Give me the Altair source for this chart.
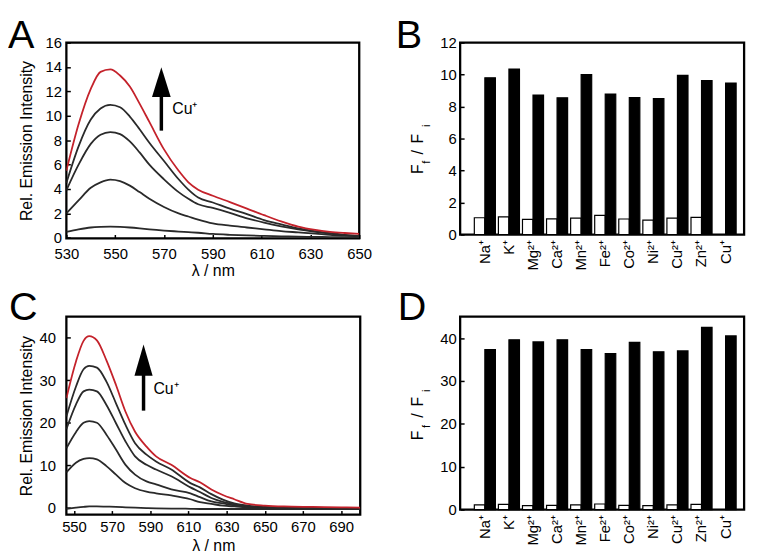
import altair as alt
import pandas as pd

FONT = "Liberation Sans"
DARK = "#2a2a2a"
RED = "#c4222b"

# ---------------- Panel A data ----------------
a_wavelength = [530, 535, 540, 544, 548, 552, 556, 560, 564, 570, 576, 580, 584, 590, 597, 604, 611, 618, 625, 632, 638, 644, 650]
a_cu_final = [5.5, 9.3, 12.2, 13.6, 13.8, 13.3, 12.4, 11.0, 9.5, 7.25, 5.5, 4.55, 3.95, 3.45, 2.93, 2.4, 1.86, 1.35, 0.92, 0.65, 0.5, 0.4, 0.32]
a_step3 = [4.5, 7.5, 9.7, 10.6, 10.9, 10.7, 9.94, 8.9, 7.8, 6.3, 4.8, 3.95, 3.3, 2.9, 2.4, 1.95, 1.45, 1.1, 0.78, 0.55, 0.38, 0.25, 0.16]
a_step2 = [3.9, 6.0, 7.7, 8.45, 8.67, 8.5, 7.9, 7.0, 6.0, 4.8, 3.75, 3.2, 2.75, 2.45, 2.05, 1.6, 1.25, 0.95, 0.7, 0.5, 0.35, 0.22, 0.14]
a_step1 = [2.0, 3.07, 4.1, 4.55, 4.77, 4.65, 4.28, 3.75, 3.2, 2.53, 2.0, 1.75, 1.5, 1.19, 1.0, 0.85, 0.7, 0.55, 0.45, 0.35, 0.25, 0.18, 0.12]
a_step0 = [0.5, 0.7, 0.85, 0.9, 0.92, 0.9, 0.85, 0.78, 0.7, 0.6, 0.52, 0.47, 0.42, 0.32, 0.25, 0.2, 0.16, 0.13, 0.1, 0.08, 0.06, 0.05, 0.04]
a_x_ticks = [530, 550, 570, 590, 610, 630, 650]
a_y_ticks = [0, 2, 4, 6, 8, 10, 12, 14, 16]

# ---------------- Panel C data ----------------
c_wavelength = [546, 551, 555, 558, 562, 567, 572, 577, 582, 588, 593, 601, 611, 616, 622, 628, 634, 641, 650, 660, 675, 690, 700]
c_cu_final = [25.8, 34.4, 39.3, 40.4, 39.4, 34.7, 28.9, 22.6, 17.9, 14.4, 12.1, 10.1, 7.0, 6.0, 4.3, 3.0, 2.0, 0.9, 0.5, 0.3, 0.2, 0.1, 0.0]
c_step4 = [21.5, 28.5, 32.6, 33.4, 33.0, 29.7, 24.6, 19.5, 15.2, 12.5, 10.9, 9.0, 5.8, 4.8, 3.2, 1.9, 1.0, 0.5, 0.2, 0.1, 0.0, -0.1, -0.1]
c_step3 = [18.5, 24.3, 27.4, 27.8, 27.4, 24.2, 19.9, 15.6, 12.1, 10.1, 9.0, 7.4, 4.8, 3.7, 2.3, 1.4, 0.8, 0.4, 0.1, 0.0, -0.1, -0.1, -0.1]
c_step2 = [14.0, 17.8, 20.0, 20.4, 20.0, 17.2, 13.7, 10.1, 7.8, 6.2, 5.5, 4.3, 3.4, 2.5, 1.5, 1.0, 0.5, 0.2, 0.0, -0.1, -0.1, -0.1, -0.1]
c_step1 = [8.3, 10.6, 11.5, 11.7, 11.4, 9.8, 7.8, 5.8, 4.6, 3.8, 3.4, 2.9, 2.0, 1.3, 0.9, 0.5, 0.3, 0.1, 0.0, -0.1, -0.1, -0.1, -0.1]
c_step0 = [-0.3, 0.0, 0.2, 0.3, 0.3, 0.25, 0.2, 0.1, 0.0, -0.1, -0.15, -0.2, -0.25, -0.3, -0.3, -0.3, -0.3, -0.3, -0.3, -0.3, -0.3, -0.3, -0.3]
c_x_ticks = [550, 570, 590, 610, 630, 650, 670, 690]
c_y_ticks = [0, 10, 20, 30, 40]

# ---------------- Bar panels data ----------------
ions = ["Na⁺", "K⁺", "Mg²⁺", "Ca²⁺", "Mn²⁺", "Fe²⁺", "Co²⁺", "Ni²⁺", "Cu²⁺", "Zn²⁺", "Cu⁺"]
b_before = [1.05, 1.1, 0.95, 0.98, 1.02, 1.2, 0.97, 0.9, 1.02, 1.07]
b_after = [9.8, 10.35, 8.72, 8.55, 10.0, 8.78, 8.56, 8.5, 9.95, 9.62, 9.47]
d_before = [1.1, 1.2, 0.9, 1.0, 1.1, 1.3, 1.0, 0.9, 1.1, 1.2]
d_after = [37.3, 39.6, 39.1, 39.6, 37.3, 36.4, 39.0, 36.8, 37.0, 42.5, 40.5]
b_y_ticks = [0, 2, 4, 6, 8, 10, 12]
d_y_ticks = [0, 10, 20, 30, 40]


def curves_df(wl, series):
    rows = []
    for name, vals in series.items():
        for w, v in zip(wl, vals):
            rows.append({"wl": w, "val": v, "series": name})
    return pd.DataFrame(rows)


def bars_df(before, after):
    rows = []
    for ion, v in zip(ions, before):
        rows.append({"ion": ion, "state": "before", "ratio": v})
    for ion, v in zip(ions, after):
        rows.append({"ion": ion, "state": "after", "ratio": v})
    return pd.DataFrame(rows)


ONE = alt.Data(values=[{}])
LETTER_SIZE = 40


def txt(text, x, y, size, align="left", baseline="alphabetic", angle=0):
    return alt.Chart(ONE).mark_text(
        text=text, font=FONT, fontSize=size, align=align, baseline=baseline,
        angle=angle, color="black"
    ).encode(x=alt.value(x), y=alt.value(y))


def spectrum_panel(black_df, red_df, xdom, xticks, ydom, yticks, w, h,
                   letter, letter_xy, arrow, ylab_pad, xlab_pad):
    xax = alt.Axis(values=xticks, format="d", title="λ / nm", orient="bottom",
                   offset=-4, tickSize=4, tickWidth=1.5, tickColor="black",
                   labelPadding=xlab_pad, labelFontSize=15, labelFlush=False,
                   labelOverlap=False, domain=False, grid=False,
                   titleFontSize=16, titleFontWeight="normal",
                   titleX=w / 2, titleY=arrow["xtitle_y"],
                   titleBaseline="middle", titleAlign="center")
    yax = alt.Axis(values=yticks, format="d", title="Rel. Emission Intensity",
                   orient="left", offset=-4, tickSize=4, tickWidth=1.5,
                   tickColor="black", labelPadding=ylab_pad, labelFontSize=15,
                   labelFlush=False, labelOverlap=False, domain=False,
                   grid=False, titleFontSize=16, titleFontWeight="normal",
                   titleAngle=270, titleX=-44, titleY=h / 2,
                   titleBaseline="middle", titleAlign="center")
    xs = alt.Scale(domain=xdom, nice=False, zero=False)
    ys = alt.Scale(domain=ydom, nice=False, zero=False)
    blk = alt.Chart(black_df).mark_line(
        color=DARK, strokeWidth=1.8, interpolate="monotone", clip=True
    ).encode(
        x=alt.X("wl:Q", scale=xs, axis=xax),
        y=alt.Y("val:Q", scale=ys, axis=yax),
        detail="series:N",
    )
    red = alt.Chart(red_df).mark_line(
        color=RED, strokeWidth=1.8, interpolate="monotone", clip=True
    ).encode(x=alt.X("wl:Q", scale=xs, axis=xax),
             y=alt.Y("val:Q", scale=ys, axis=yax))
    shaft = alt.Chart(ONE).mark_rule(color="black", strokeWidth=3.5).encode(
        x=alt.value(arrow["x"]), y=alt.value(arrow["shaft"][0]),
        y2=alt.value(arrow["shaft"][1]))
    hw = arrow["head_hw"]
    head = alt.Chart(ONE).mark_point(
        shape=f"M -{hw} 1 L 0 -1 L {hw} 1 Z", filled=True, opacity=1,
        color="black", size=arrow["head_size"], strokeWidth=0
    ).encode(x=alt.value(arrow["x"]), y=alt.value(arrow["head_y"]))
    cu = txt("Cu⁺", arrow["tx"], arrow["ty"], 16)
    let = txt(letter, letter_xy[0], letter_xy[1], LETTER_SIZE)
    return alt.layer(blk, red, shaft, head, cu, let).properties(width=w, height=h)


def bar_panel(df, ydom, yticks, w, h, letter, letter_xy, sub_pos):
    xax = alt.Axis(title=None, labelAngle=270, labelAlign="right",
                   labelBaseline="middle", labelPadding=5, ticks=False,
                   domain=False, grid=False, labelFontSize=15,
                   labelOverlap=False, labelColor="black")
    yax = alt.Axis(values=yticks, format="d", title=None, orient="left",
                   offset=-4, tickSize=4, tickWidth=1.5, tickColor="black",
                   labelPadding=4, labelFontSize=15, labelFlush=False,
                   labelOverlap=False, domain=False, grid=False)
    bars = alt.Chart(df).mark_bar(stroke="black", strokeWidth=1.2).encode(
        x=alt.X("ion:N", sort=ions,
                scale=alt.Scale(paddingInner=0.125, paddingOuter=0.46, align=0.64),
                axis=xax),
        xOffset=alt.XOffset("state:N", sort=["before", "after"],
                            scale=alt.Scale(domain=["before", "after"],
                                            paddingInner=0, paddingOuter=0)),
        y=alt.Y("ratio:Q", scale=alt.Scale(domain=ydom, nice=False), axis=yax),
        fill=alt.Fill("state:N", scale=alt.Scale(domain=["before", "after"],
                                                  range=["white", "black"]),
                      legend=None),
    )
    parts = [
        txt("F", -38, sub_pos[0], 16, align="center", angle=270),
        txt("f", -30, sub_pos[1], 11, align="center", angle=270),
        txt("/", -38, sub_pos[2], 16, align="center", angle=270),
        txt("F", -38, sub_pos[3], 16, align="center", angle=270),
        txt("i", -30, sub_pos[4], 11, align="center", angle=270),
    ]
    let = txt(letter, letter_xy[0], letter_xy[1], LETTER_SIZE)
    return alt.layer(bars, *parts, let).properties(width=w, height=h)


a_black = curves_df(a_wavelength, {"s0": a_step0, "s1": a_step1, "s2": a_step2, "s3": a_step3})
a_red = curves_df(a_wavelength, {"final": a_cu_final})
c_black = curves_df(c_wavelength, {"s0": c_step0, "s1": c_step1, "s2": c_step2,
                                   "s3": c_step3, "s4": c_step4})
c_red = curves_df(c_wavelength, {"final": c_cu_final})

panel_a = spectrum_panel(
    a_black, a_red, [530, 650], a_x_ticks, [-0.05, 16], a_y_ticks, 296, 198,
    "A", (-59, 5),
    {"x": 96, "shaft": (54, 89), "head_y": 40, "head_hw": 0.63,
     "head_size": 900, "tx": 107, "ty": 72, "xtitle_y": 36}, 5, 8)
panel_b = bar_panel(bars_df(b_before, b_after), [0, 12], b_y_ticks, 287, 194,
                    "B", (-65, 5), [128, 121, 111, 97, 84])
panel_c = spectrum_panel(
    c_black, c_red, [546, 700], c_x_ticks, [-1.6, 45], c_y_ticks, 297, 200,
    "C", (-58, 3),
    {"x": 78, "shaft": (58, 95), "head_y": 44, "head_hw": 0.58,
     "head_size": 1000, "tx": 88, "ty": 78, "xtitle_y": 35}, 11, 5)
panel_d = bar_panel(bars_df(d_before, d_after), [0, 45], d_y_ticks, 287, 195,
                    "D", (-63, 3), [120, 111, 100, 86, 75])

chart = alt.concat(
    panel_a, panel_b, panel_c, panel_d, columns=2,
    spacing={"row": 79, "column": 101}, bounds="flush", align="each"
).properties(
    padding={"left": 59, "top": 32, "right": 695, "bottom": 519},
    autosize=alt.AutoSizeParams(type="none"),
    background="white",
).configure(
    font=FONT
).configure_view(
    stroke="black", strokeWidth=2.3
).configure_axis(
    labelColor="black", titleColor="black", labelFont=FONT, titleFont=FONT
)

chart.save("out.html", embed_options={"renderer": "svg", "actions": False})
